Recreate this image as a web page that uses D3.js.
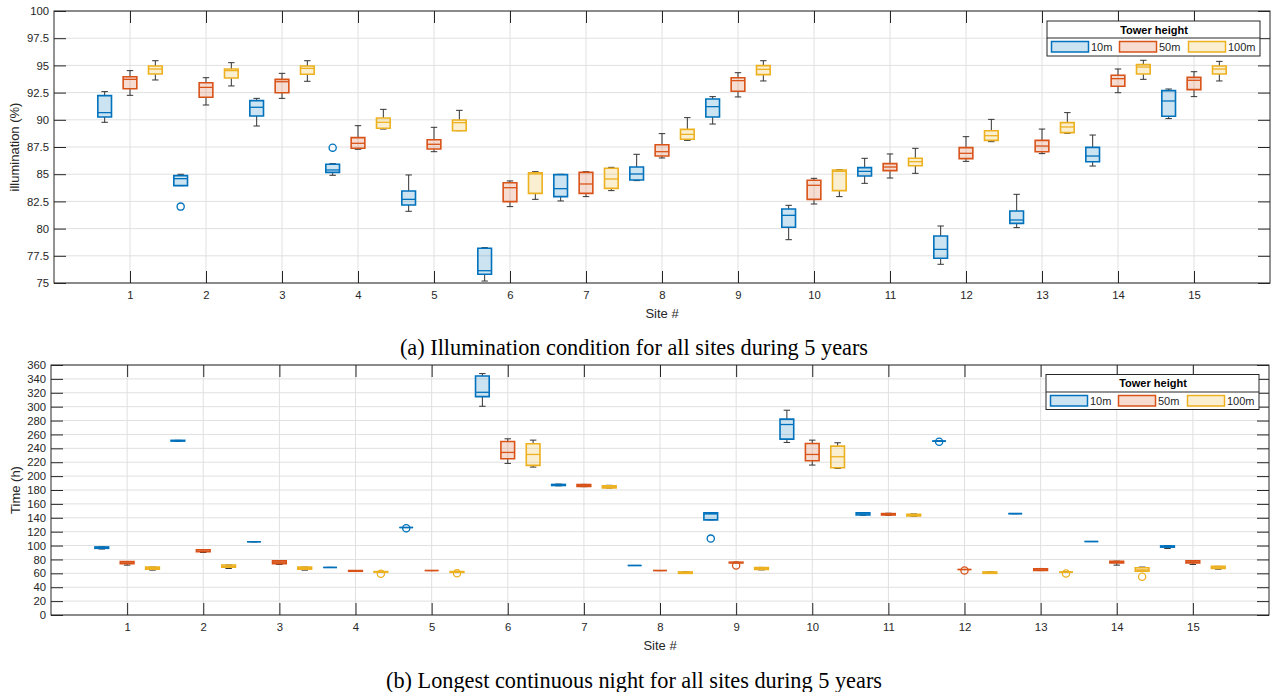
<!DOCTYPE html>
<html><head><meta charset="utf-8">
<script src="https://cdn.jsdelivr.net/npm/d3@7"></script>
<style>body{margin:0;background:#fff} svg{display:block}</style>
</head><body><svg id="c" width="1275" height="692"></svg>
<script>
// ---------- DATA ----------
const sites = d3.range(1, 16);
const heights = ["10m", "50m", "100m"];
const colors = ["#0072BD", "#D95319", "#EDB120"];
const illumTicks = d3.range(75, 100.01, 2.5);
const nightTicks = d3.range(0, 360.01, 20);

// each row: [min, q1, median, q3, max] per site
const illum10 = [
  [89.77, 90.26, 90.66, 92.22, 92.59], [83.95, 83.95, 84.59, 84.87, 84.99], [89.43, 90.35, 91.15, 91.76, 91.97],
  [84.90, 85.17, 85.39, 85.91, 85.97], [81.59, 82.17, 82.69, 83.46, 84.93], [75.18, 75.80, 76.13, 78.19, 78.25],
  [82.54, 82.94, 83.67, 84.96, 84.99], [84.41, 84.47, 85.02, 85.66, 86.83], [89.61, 90.26, 91.21, 91.91, 92.13],
  [78.98, 80.12, 81.22, 81.80, 82.14], [84.16, 84.83, 85.26, 85.60, 86.46], [76.72, 77.27, 78.09, 79.32, 80.24],
  [80.09, 80.48, 80.79, 81.62, 83.15], [85.75, 86.15, 86.67, 87.47, 88.60], [90.11, 90.32, 91.73, 92.68, 92.83]
];
const illum50 = [
  [92.25, 92.86, 93.72, 93.96, 94.52], [91.36, 92.07, 92.98, 93.41, 93.87], [91.97, 92.49, 93.50, 93.72, 94.27],
  [87.29, 87.38, 87.84, 88.36, 89.46], [87.07, 87.32, 87.75, 88.17, 89.31], [82.02, 82.48, 83.76, 84.22, 84.38],
  [82.94, 83.24, 84.10, 85.17, 85.23], [86.49, 86.67, 87.07, 87.71, 88.73], [92.10, 92.62, 93.60, 93.87, 94.33],
  [82.26, 82.69, 83.98, 84.44, 84.62], [84.65, 85.33, 85.66, 85.97, 86.86], [86.18, 86.43, 86.92, 87.44, 88.45],
  [86.89, 87.07, 87.59, 88.11, 89.15], [92.49, 93.08, 93.78, 94.09, 94.67], [92.13, 92.77, 93.63, 93.90, 94.42]
];
const illum100 = [
  [93.66, 94.21, 94.67, 94.94, 95.43], [93.11, 93.84, 94.52, 94.67, 95.25], [93.54, 94.18, 94.73, 94.94, 95.43],
  [89.15, 89.22, 89.77, 90.17, 90.96], [89.00, 89.00, 89.74, 89.98, 90.87], [82.69, 83.24, 85.02, 85.14, 85.23],
  [83.49, 83.70, 84.56, 85.54, 85.63], [88.11, 88.21, 88.66, 89.12, 90.20], [93.57, 94.15, 94.64, 94.98, 95.43],
  [82.94, 83.49, 85.26, 85.39, 85.42], [85.08, 85.78, 86.15, 86.46, 87.38], [87.99, 88.11, 88.54, 89.00, 90.04],
  [88.76, 88.82, 89.34, 89.74, 90.66], [93.72, 94.21, 94.85, 95.07, 95.47], [93.57, 94.21, 94.67, 94.94, 95.37]
];
// outliers: [site, value]
const illumOut10 = [[2, 82.02], [4, 87.44]];
const illumOut50 = [];
const illumOut100 = [];

const night10 = [
  [95, 96, 97, 98, 98], [250, 250.5, 251, 251.5, 251.5], [105.5, 105.5, 105.5, 105.5, 105.5],
  [68.5, 68.5, 68.5, 68.5, 68.5], [126, 126, 126, 126, 126], [300.6, 314.5, 320.7, 344.2, 347.6],
  [186, 186.5, 187, 188, 188.5], [71.3, 71.3, 71.3, 71.3, 71.3], [137, 137, 145.5, 147, 147],
  [248.5, 253.2, 274.3, 282, 294.9], [143.6, 144, 145.5, 147, 147.4], [250.4, 250.4, 250.4, 250.4, 250.4],
  [146, 146, 146, 146, 146], [105.8, 105.8, 105.8, 105.8, 105.8], [95.7, 97.7, 98.5, 99.5, 100]
];
const night50 = [
  [71.8, 74, 75, 77, 77], [90, 91, 92, 94, 94], [72.8, 74, 76, 78, 78],
  [63, 63, 63.5, 64, 64], [64, 64, 64, 64, 64], [218.3, 225, 234.1, 249.9, 253.7],
  [184.8, 185, 186.5, 188, 188.1], [64, 64, 64, 64, 64], [75, 75, 75.5, 76, 76],
  [215.9, 222.1, 231.2, 247, 251.8], [143.6, 144, 145, 146, 146.5], [65.5, 65.5, 65.5, 65.5, 65.5],
  [64, 64, 65, 66.5, 67], [71.8, 75, 76, 77.5, 77.5], [72.8, 75, 76, 78, 78]
];
const night100 = [
  [64.6, 66, 67, 69, 69], [67, 69, 70, 72, 72], [64.6, 66, 67, 69, 69],
  [61.8, 61.8, 62, 62.5, 62.5], [61.5, 61.5, 62, 62.5, 62.5], [213, 215.4, 231.2, 246.5, 251.8],
  [182.9, 183, 184.5, 186, 186.7], [59.8, 60, 61, 62, 62.2], [65, 65.5, 67, 68.5, 68.5],
  [211.1, 212.1, 227.9, 243.2, 248], [142.2, 142.5, 143.5, 145, 145.5], [59.8, 60, 61, 62, 62.2],
  [61.8, 61.8, 61.8, 61.8, 61.8], [63.2, 63.2, 65, 68, 69], [66, 67, 68, 70, 70]
];
const nightOut10 = [[5, 125], [9, 110], [12, 249.4]];
const nightOut50 = [[9, 71.3], [12, 64]];
const nightOut100 = [[4, 59.4], [5, 60], [13, 59.8], [14, 55]];

// ---------- DRAW ----------
const svg = d3.select("#c");
const AX = "#262626", GRID = "#e0e0e0", WHISK = "#333333";
const offsets = [-1/3, 0, 1/3];
const boxW = 0.18, capW = 0.085;

function panel(cfg) {
  const x = d3.scaleLinear().domain([0, 16]).range([cfg.left, cfg.right]);
  const y = d3.scaleLinear().domain(cfg.ydom).range([cfg.bottom, cfg.top]);
  const g = svg.append("g");

  // grid
  g.append("g").selectAll("line").data(cfg.yticks).join("line")
    .attr("x1", cfg.left).attr("x2", cfg.right)
    .attr("y1", d => y(d)).attr("y2", d => y(d))
    .attr("stroke", GRID).attr("stroke-width", 1);
  g.append("g").selectAll("line").data(sites).join("line")
    .attr("y1", cfg.top).attr("y2", cfg.bottom)
    .attr("x1", d => x(d)).attr("x2", d => x(d))
    .attr("stroke", GRID).attr("stroke-width", 1);

  // boxes
  cfg.series.forEach((ser, si) => {
    const col = colors[si];
    const sg = g.append("g");
    ser.forEach((s, i) => {
      const cx = x(sites[i] + offsets[si]);
      const hw = (x(boxW) - x(0)) / 2, cw = (x(capW) - x(0)) / 2;
      const [mn, q1, md, q3, mx] = s;
      // whiskers
      sg.append("line").attr("x1", cx).attr("x2", cx).attr("y1", y(mx)).attr("y2", y(q3))
        .attr("stroke", WHISK).attr("stroke-width", 1);
      sg.append("line").attr("x1", cx).attr("x2", cx).attr("y1", y(q1)).attr("y2", y(mn))
        .attr("stroke", WHISK).attr("stroke-width", 1);
      [mn, mx].forEach(v => sg.append("line").attr("x1", cx - cw).attr("x2", cx + cw)
        .attr("y1", y(v)).attr("y2", y(v)).attr("stroke", WHISK).attr("stroke-width", 1));
      // box
      sg.append("path")
        .attr("d", `M${cx - hw},${y(q3)}H${cx + hw}V${y(q1)}H${cx - hw}Z`)
        .attr("fill", col).attr("fill-opacity", 0.2)
        .attr("stroke", col).attr("stroke-width", 1.6);
      sg.append("line").attr("x1", cx - hw).attr("x2", cx + hw).attr("y1", y(md)).attr("y2", y(md))
        .attr("stroke", col).attr("stroke-width", 1.3);
    });
    cfg.outliers[si].forEach(o => {
      sg.append("circle").attr("cx", x(o[0] + offsets[si])).attr("cy", y(o[1])).attr("r", 3.6)
        .attr("fill", "none").attr("stroke", col).attr("stroke-width", 1.3);
    });
  });

  // axes
  const tl = -12;
  const xb = g.append("g").attr("transform", `translate(0,${cfg.bottom})`)
    .call(d3.axisBottom(x).tickValues(sites).tickSizeInner(tl).tickSizeOuter(0).tickPadding(8));
  const xt = g.append("g").attr("transform", `translate(0,${cfg.top})`)
    .call(d3.axisTop(x).tickValues(sites).tickSizeInner(tl).tickSizeOuter(0).tickFormat(""));
  const yl = g.append("g").attr("transform", `translate(${cfg.left},0)`)
    .call(d3.axisLeft(y).tickValues(cfg.yticks).tickSizeInner(tl).tickSizeOuter(0).tickPadding(5)
      .tickFormat(d => String(+d.toFixed(1))));
  const yr = g.append("g").attr("transform", `translate(${cfg.right},0)`)
    .call(d3.axisRight(y).tickValues(cfg.yticks).tickSizeInner(tl).tickSizeOuter(0).tickFormat(""));
  [xb, xt, yl, yr].forEach(a => {
    a.select(".domain").remove();
    a.selectAll("line").attr("stroke", AX).attr("stroke-width", 1);
    a.selectAll("text").attr("fill", AX).style("font-family", "'Liberation Sans', Arial, sans-serif")
      .style("font-size", "11.3px");
  });
  g.append("rect").attr("x", cfg.left).attr("y", cfg.top)
    .attr("width", cfg.right - cfg.left).attr("height", cfg.bottom - cfg.top)
    .attr("fill", "none").attr("stroke", AX).attr("stroke-width", 1);

  // labels
  g.append("text").attr("x", (cfg.left + cfg.right) / 2).attr("y", cfg.bottom + 35)
    .attr("text-anchor", "middle").attr("fill", AX)
    .style("font-family", "'Liberation Sans', Arial, sans-serif").style("font-size", "13px").text("Site #");
  g.append("text").attr("transform", `translate(${cfg.ylabX},${(cfg.top + cfg.bottom) / 2}) rotate(-90)`)
    .attr("text-anchor", "middle").attr("fill", AX)
    .style("font-family", "'Liberation Sans', Arial, sans-serif").style("font-size", "13px").text(cfg.ylabel);

  // legend
  const L = cfg.legend;
  const lg = g.append("g");
  lg.append("rect").attr("x", L.x).attr("y", L.y).attr("width", L.w).attr("height", L.h)
    .attr("fill", "#fff").attr("stroke", AX).attr("stroke-width", 1);
  lg.append("line").attr("x1", L.x).attr("x2", L.x + L.w).attr("y1", L.y + L.th).attr("y2", L.y + L.th)
    .attr("stroke", AX).attr("stroke-width", 1);
  lg.append("text").attr("x", L.x + L.w / 2 + 0.5).attr("y", L.y + L.th / 2 + 4)
    .attr("text-anchor", "middle").attr("fill", "#000")
    .style("font-family", "'Liberation Sans', Arial, sans-serif").style("font-size", "11px")
    .style("font-weight", "bold").text("Tower height");
  const sx = [4.5, 72.5, 141.5];
  heights.forEach((h, i) => {
    lg.append("rect").attr("x", L.x + sx[i]).attr("y", L.y + L.th + 3.5).attr("width", 37).attr("height", 10.5)
      .attr("fill", colors[i]).attr("fill-opacity", 0.2).attr("stroke", colors[i]).attr("stroke-width", 1.5);
    lg.append("text").attr("x", L.x + sx[i] + 39.5).attr("y", L.y + L.th + 13)
      .attr("fill", AX).style("font-family", "'Liberation Sans', Arial, sans-serif").style("font-size", "11px")
      .text(h);
  });

  // caption
  svg.append("text").attr("x", 634).attr("y", cfg.capY).attr("text-anchor", "middle").attr("fill", "#000")
    .style("font-family", "'Liberation Serif', 'Times New Roman', serif").style("font-size", "22.3px")
    .text(cfg.caption);
}

panel({
  left: 54, right: 1270, top: 11, bottom: 283, ydom: [75, 100], yticks: illumTicks,
  series: [illum10, illum50, illum100], outliers: [illumOut10, illumOut50, illumOut100],
  ylabel: "illumination (%)", ylabX: 19,
  legend: { x: 1047, y: 21, w: 213, h: 35, th: 17 },
  caption: "(a) Illumination condition for all sites during 5 years", capY: 355
});
panel({
  left: 51, right: 1269, top: 365, bottom: 615, ydom: [0, 360], yticks: nightTicks,
  series: [night10, night50, night100], outliers: [nightOut10, nightOut50, nightOut100],
  ylabel: "Time (h)", ylabX: 20,
  legend: { x: 1046, y: 374.5, w: 213, h: 35, th: 17.5 },
  caption: "(b) Longest continuous night for all sites during 5 years", capY: 688
});
</script></body></html>
